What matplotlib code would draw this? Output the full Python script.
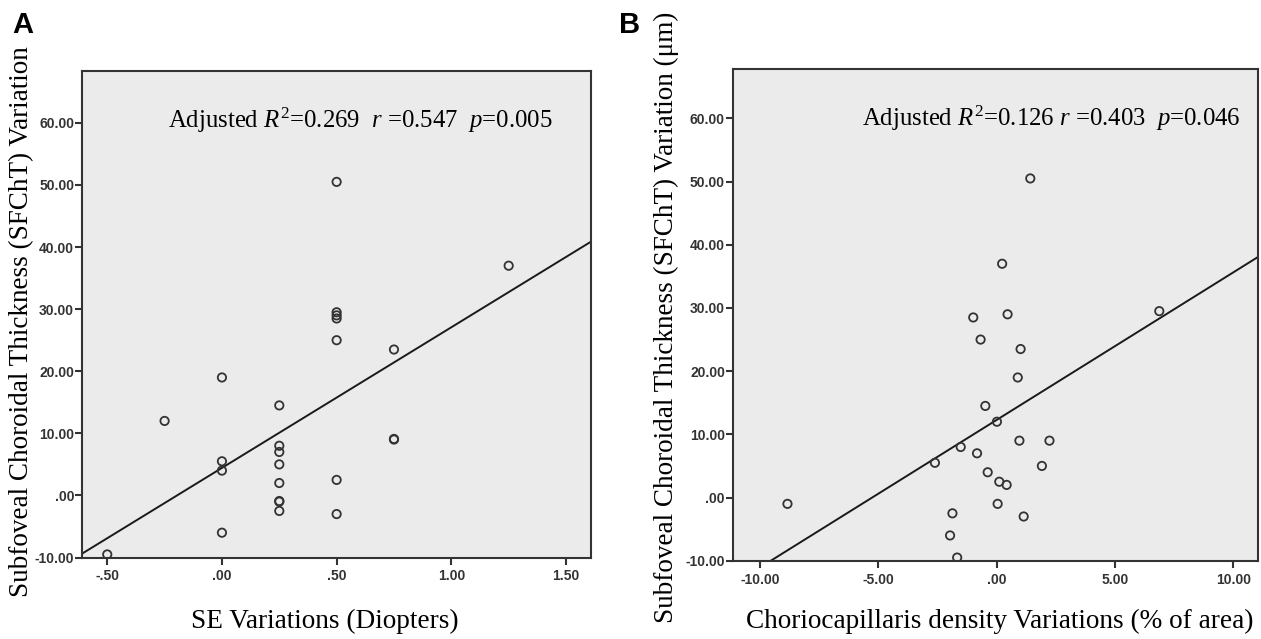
import numpy as np
import matplotlib
matplotlib.use("Agg")
import matplotlib.pyplot as plt
from matplotlib.ticker import FuncFormatter

plt.rcParams["mathtext.fontset"] = "custom"
plt.rcParams["mathtext.rm"] = "Liberation Serif"
plt.rcParams["mathtext.it"] = "Liberation Serif:italic"

# panel A: SE variation (D) vs SFChT variation
se_var = [0.50, 1.25, 0.50, 0.50, 0.50, 0.50, 0.75, 0.00, -0.25, 0.25,
          0.75, 0.75, 0.00, 0.00, 0.25, 0.25, 0.25, 0.25, 0.25, 0.25,
          0.25, 0.50, 0.50, 0.00, -0.50]
sfcht_a = [50.5, 37.0, 29.5, 29.0, 28.5, 25.0, 23.5, 19.0, 12.0, 14.5,
           9.0, 9.1, 5.5, 4.0, 8.0, 7.0, 5.0, 2.0, -1.0, -0.9,
           -2.5, 2.5, -3.0, -6.0, -9.5]

# panel B: choriocapillaris density variation (% area) vs SFChT variation
cc_var = [1.42, 0.23, -0.99, 0.46, -0.68, 1.01, 6.87, 0.89, -0.48, 0.01,
          0.96, 2.23, -1.52, -0.83, -2.61, 1.91, -0.38, 0.11, 0.42, -8.84,
          0.04, -1.87, 1.14, -1.97, -1.67]
sfcht_b = [50.5, 37.0, 28.5, 29.0, 25.0, 23.5, 29.5, 19.0, 14.5, 12.0,
           9.0, 9.0, 8.0, 7.0, 5.5, 5.0, 4.0, 2.5, 2.0, -1.0,
           -1.0, -2.5, -3.0, -6.0, -9.5]

stats_a = r"Adjusted $R^2$=0.269  $r$ =0.547  $p$=0.005"
stats_b = r"Adjusted $R^2$=0.126 $r$ =0.403  $p$=0.046"
ylab = "Subfoveal Choroidal Thickness (SFChT) Variation"


def spss_fmt(v, pos):
    s = f"{v:.2f}"
    if abs(v) < 1:
        s = s.replace("0.", ".", 1)
    return s


def panel(ax, x, y, xlim, ytop, xticks, stats, xlabel, ylabel, tx,
          xl_pos, yl_pos):
    ax.set_facecolor("#ebebeb")
    ax.scatter(x, y, s=36, facecolors="none", edgecolors="#333333",
               linewidths=1.3, zorder=3)
    b, a = np.polyfit(x, y, 1)
    xs = np.array(xlim)
    ax.plot(xs, a + b * xs, color="#1a1a1a", lw=1.4, zorder=2)
    ax.set_xlim(xlim)
    ax.set_ylim(-10, ytop)
    ax.set_xticks(xticks)
    ax.set_yticks(np.arange(-10, 61, 10))
    ax.xaxis.set_major_formatter(FuncFormatter(spss_fmt))
    ax.yaxis.set_major_formatter(FuncFormatter(spss_fmt))
    for sp in ax.spines.values():
        sp.set_color("#333333")
        sp.set_linewidth(1.5)
    ax.tick_params(direction="out", length=5, width=1.5, color="#333333",
                   labelsize=10, labelcolor="#333333")
    ax.tick_params(axis="y", pad=1)
    for lb in ax.get_xticklabels() + ax.get_yticklabels():
        lb.set_fontfamily("Liberation Sans")
        lb.set_fontweight("bold")
    ax.text(tx, 0.898, stats, transform=ax.transAxes, ha="left", va="center",
            fontsize=17.8, family="Liberation Serif")
    ax.set_xlabel(xlabel, fontsize=19.6, family="Liberation Serif")
    ax.set_ylabel(ylabel, fontsize=19.5, family="Liberation Serif")
    ax.xaxis.set_label_coords(*xl_pos)
    ax.yaxis.set_label_coords(*yl_pos)
    ax.xaxis.label.set_va("center")
    ax.yaxis.label.set_va("center")


fig = plt.figure(figsize=(12.61, 6.39), dpi=100)
axA = fig.add_axes([0.0654, 0.1275, 0.4033, 0.7618])
axB = fig.add_axes([0.5815, 0.1225, 0.4161, 0.7703])

panel(axA, se_var, sfcht_a, (-0.608, 1.609), 68.4, [-0.5, 0, 0.5, 1.0, 1.5],
      stats_a, "SE Variations (Diopters)", ylab, 0.169,
      (0.4775, -0.1315), (-0.119, 0.484))
panel(axB, cc_var, sfcht_b, (-11.13, 11.04), 67.9, [-10, -5, 0, 5, 10],
      stats_b, "Choriocapillaris density Variations (% of area)",
      ylab + " (μm)", 0.2447,
      (0.508, -0.1235), (-0.128, 0.494))

fig.text(0.010, 0.983, "A", fontsize=21, fontweight="bold",
         family="Liberation Sans", va="top")
fig.text(0.491, 0.983, "B", fontsize=21, fontweight="bold",
         family="Liberation Sans", va="top")

fig.savefig("out.png", dpi=100)
